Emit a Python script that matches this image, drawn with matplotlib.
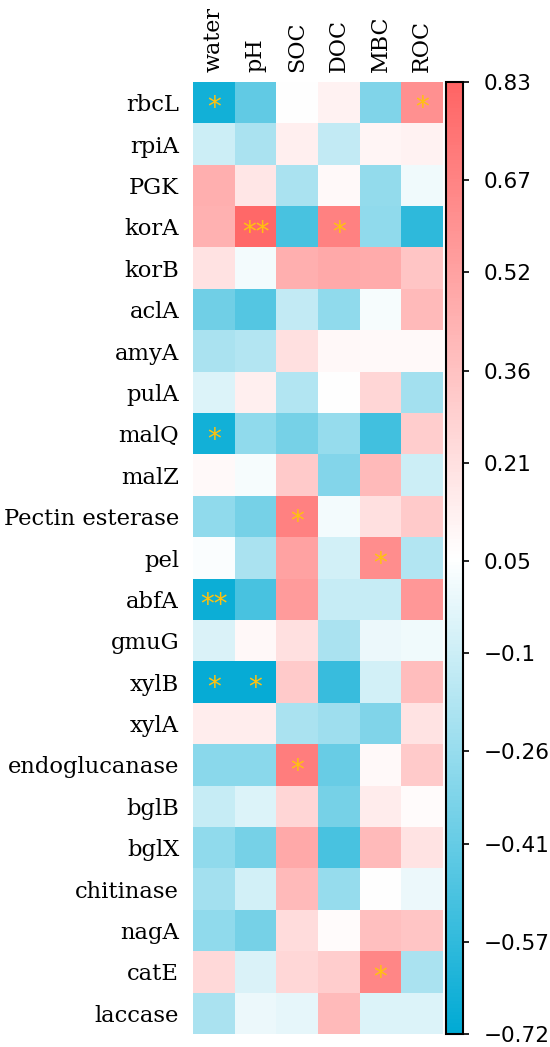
import numpy as np
import matplotlib
matplotlib.use("Agg")
import matplotlib.pyplot as plt
from matplotlib.colors import LinearSegmentedColormap

# genes (rows) and soil properties (columns)
genes = ['rbcL', 'rpiA', 'PGK', 'korA', 'korB', 'aclA', 'amyA', 'pulA', 'malQ',
         'malZ', 'Pectin esterase', 'pel', 'abfA', 'gmuG', 'xylB', 'xylA',
         'endoglucanase', 'bglB', 'bglX', 'chitinase', 'nagA', 'catE', 'laccase']
factors = ['water', 'pH', 'SOC', 'DOC', 'MBC', 'ROC']

# correlation values
r_values = np.array([
    [-0.66, -0.42,  0.05,  0.12, -0.33,  0.60],
    [-0.10, -0.20,  0.13, -0.13,  0.10,  0.12],
    [ 0.45,  0.18, -0.20,  0.08, -0.27,  0.01],
    [ 0.44,  0.80, -0.50,  0.68, -0.28, -0.58],
    [ 0.20,  0.02,  0.45,  0.48,  0.47,  0.34],
    [-0.38, -0.46, -0.13, -0.28,  0.03,  0.40],
    [-0.20, -0.17,  0.21,  0.09,  0.08,  0.08],
    [-0.05,  0.13, -0.18,  0.05,  0.26, -0.22],
    [-0.66, -0.28, -0.36, -0.26, -0.52,  0.30],
    [ 0.08,  0.03,  0.32, -0.32,  0.40, -0.10],
    [-0.28, -0.36,  0.68,  0.02,  0.21,  0.32],
    [ 0.04, -0.20,  0.52, -0.08,  0.62, -0.18],
    [-0.68, -0.50,  0.55, -0.12, -0.12,  0.57],
    [-0.06,  0.09,  0.21, -0.20,  0.00,  0.01],
    [-0.70, -0.70,  0.32, -0.55, -0.08,  0.38],
    [ 0.14,  0.14, -0.20, -0.24, -0.33,  0.19],
    [-0.30, -0.30,  0.70, -0.40,  0.08,  0.32],
    [-0.12, -0.05,  0.26, -0.36,  0.15,  0.07],
    [-0.28, -0.36,  0.48, -0.50,  0.40,  0.19],
    [-0.22, -0.08,  0.40, -0.26,  0.05,  0.00],
    [-0.28, -0.36,  0.23,  0.07,  0.37,  0.34],
    [ 0.24, -0.06,  0.25,  0.30,  0.66, -0.20],
    [-0.20,  0.00, -0.02,  0.40, -0.05, -0.05],
])

# significance marks
signif = [
    ['*', '', '', '', '', '*'],
    ['', '', '', '', '', ''],
    ['', '', '', '', '', ''],
    ['', '**', '', '*', '', ''],
    ['', '', '', '', '', ''],
    ['', '', '', '', '', ''],
    ['', '', '', '', '', ''],
    ['', '', '', '', '', ''],
    ['*', '', '', '', '', ''],
    ['', '', '', '', '', ''],
    ['', '', '*', '', '', ''],
    ['', '', '', '', '*', ''],
    ['**', '', '', '', '', ''],
    ['', '', '', '', '', ''],
    ['*', '*', '', '', '', ''],
    ['', '', '', '', '', ''],
    ['', '', '*', '', '', ''],
    ['', '', '', '', '', ''],
    ['', '', '', '', '', ''],
    ['', '', '', '', '', ''],
    ['', '', '', '', '', ''],
    ['', '', '', '', '*', ''],
    ['', '', '', '', '', ''],
]

vmin, vmax = -0.72, 0.83
cbar_ticks = [0.83, 0.67, 0.52, 0.36, 0.21, 0.05, -0.1, -0.26, -0.41, -0.57, -0.72]
cbar_labels = ['0.83', '0.67', '0.52', '0.36', '0.21', '0.05', '\u22120.1',
               '\u22120.26', '\u22120.41', '\u22120.57', '\u22120.72']

cmap = LinearSegmentedColormap.from_list('bwr2', ['#00AAD4', '#FFFFFF', '#FF6464'])

W, H = 550, 1047
fig = plt.figure(figsize=(W / 100, H / 100), dpi=100)
ax = fig.add_axes([193 / W, 1 - 1034 / H, 250 / W, 952 / H])
cax = fig.add_axes([446 / W, 1 - 1034 / H, 17 / W, 952 / H])

im = ax.imshow(r_values, cmap=cmap, vmin=vmin, vmax=vmax, aspect='auto',
               interpolation='nearest')

for i in range(len(genes)):
    for j in range(len(factors)):
        if signif[i][j]:
            ax.text(j, i + 0.14, signif[i][j], ha='center', va='center',
                    color='#FFC20E', fontsize=20)

ax.set_xticks(range(len(factors)))
ax.set_xticklabels(factors, rotation=90, family='DejaVu Serif', fontsize=16)
ax.set_yticks(range(len(genes)))
ax.set_yticklabels(genes, family='DejaVu Serif', fontsize=16.3)
ax.xaxis.tick_top()
ax.tick_params(axis='both', length=0)
ax.tick_params(axis='x', pad=7)
ax.tick_params(axis='y', pad=10)
for s in ax.spines.values():
    s.set_visible(False)

cb = fig.colorbar(im, cax=cax, ticks=cbar_ticks)
cb.ax.set_yticklabels(cbar_labels)
cb.ax.tick_params(labelsize=15.5, length=4, width=1.2, pad=11)
cb.outline.set_linewidth(1.5)

fig.savefig('out.png', dpi=100)
